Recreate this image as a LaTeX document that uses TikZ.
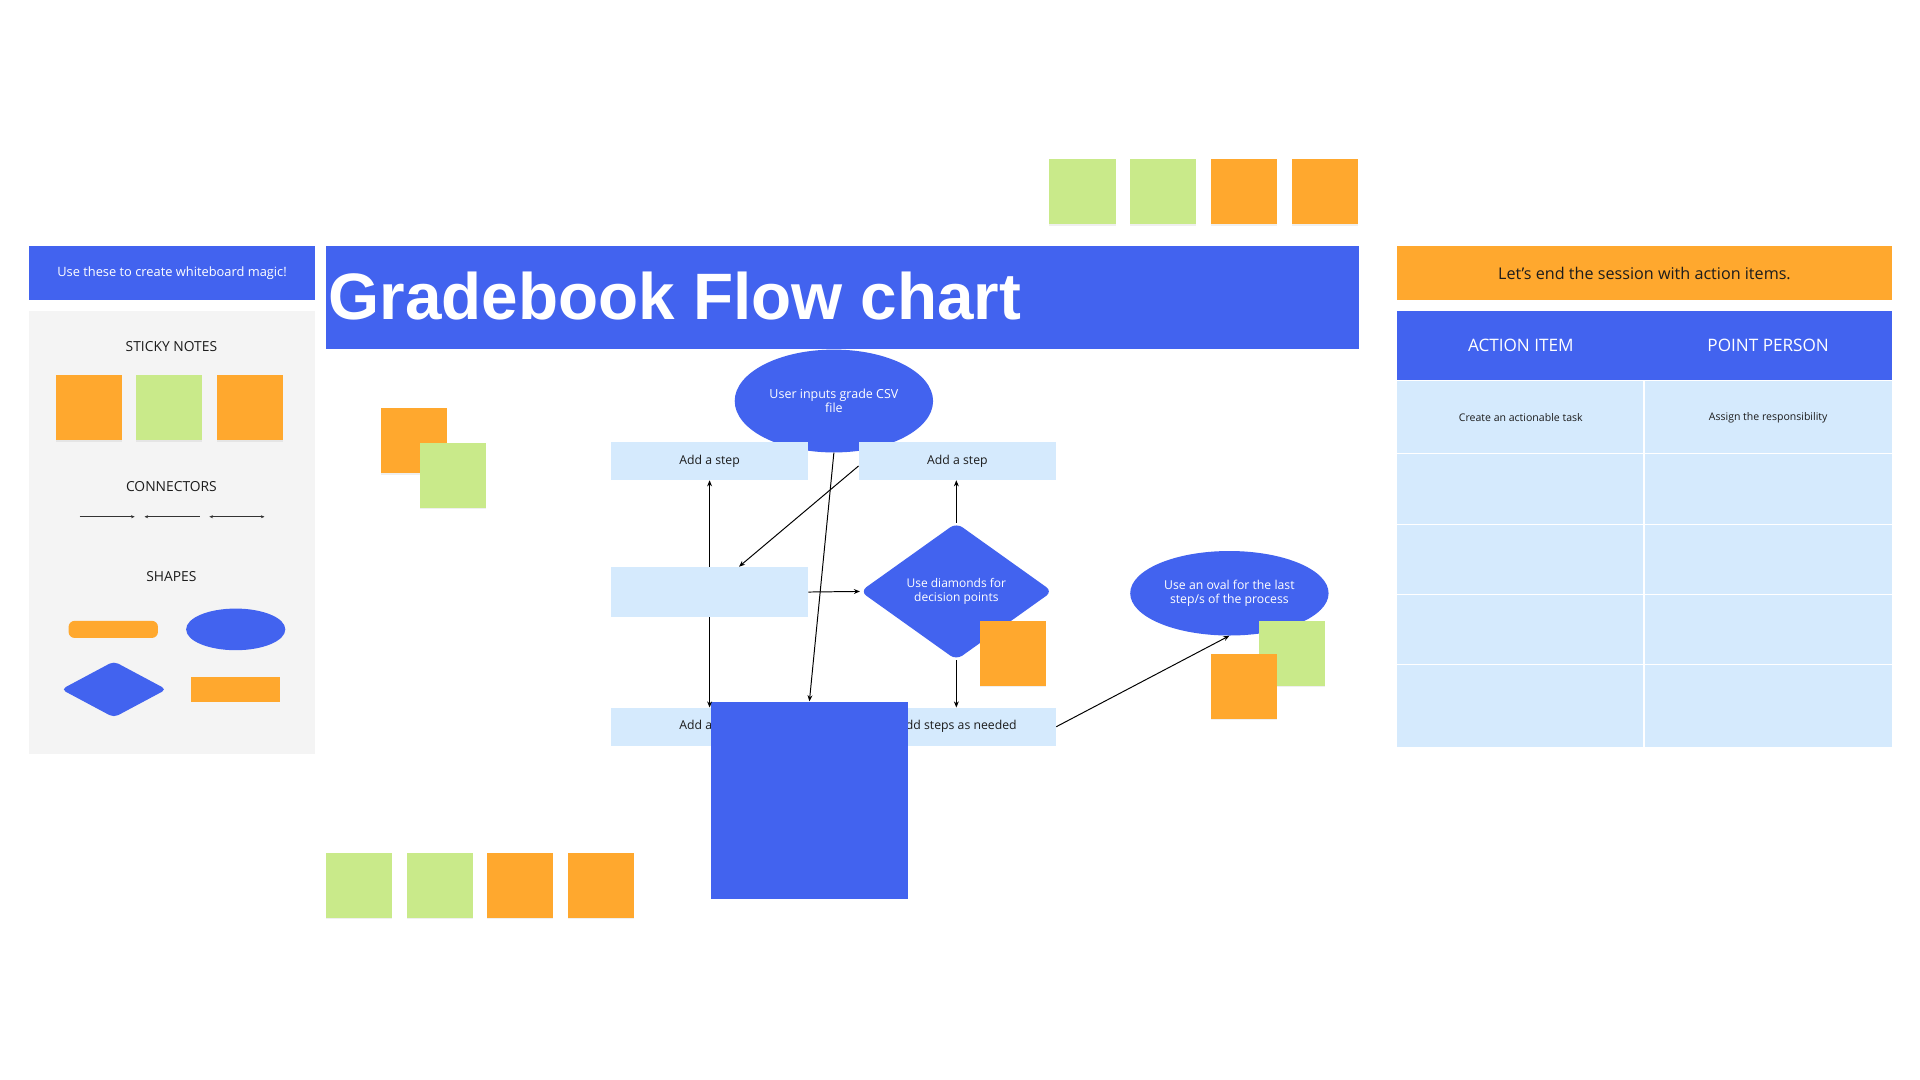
\documentclass[tikz,border=0pt]{standalone}
\usepackage{fontspec}
\setmainfont{Open Sans}
\newfontfamily\titlefont{Liberation Sans}
\usetikzlibrary{shapes.geometric,arrows.meta,positioning,shadows}
\definecolor{boardblue}{RGB}{66,99,239}
\definecolor{steplight}{RGB}{213,234,253}
\definecolor{noteorange}{RGB}{255,168,46}
\definecolor{notegreen}{RGB}{201,234,138}
\definecolor{panelgray}{RGB}{244,244,244}
\definecolor{inkdark}{RGB}{28,28,28}

\begin{document}
\begin{tikzpicture}[x=1pt, y=-1pt, font=\fontsize{10}{11}\selectfont,
  stepbox/.style={rectangle, fill=steplight, minimum width=161pt, minimum height=31pt, inner sep=0pt, text=inkdark},
  sticky/.style={rectangle, minimum width=54pt, minimum height=53pt, inner sep=0pt,
    drop shadow={shadow xshift=0pt, shadow yshift=-1.2pt, opacity=.12}},
  orangenote/.style={sticky, fill=noteorange},
  greennote/.style={sticky, fill=notegreen},
  oval/.style={ellipse, fill=boardblue, text=white, inner sep=0pt, align=center},
  band/.style={rectangle, inner sep=0pt},
  kitlabel/.style={text=inkdark, font=\fontsize{11.3}{13}\selectfont},
  flow/.style={-{Stealth[length=5pt,width=4pt]}, line width=0.8pt, black},
  legend/.style={line width=0.6pt, black!80}
]
\useasboundingbox (0,0) rectangle (1568,882);
\fill[white] (0,0) rectangle (1568,882);

% toolbox on the left
\node[band, fill=boardblue, text=white, minimum width=233pt, minimum height=44pt, font=\fontsize{10.5}{12}\selectfont] (hint) at (140.5,223) {Use these to create whiteboard magic!};
\node[band, fill=panelgray, minimum width=233pt, minimum height=362pt] (panel) at (140.5,435) {};
\node[kitlabel] (stickylbl) at (140,283) {STICKY NOTES};
\node[orangenote] (kitA) at (73,333) {};
\node[greennote] (kitB) at (138,333) {};
\node[orangenote] (kitC) at (204,333) {};
\node[kitlabel] (connlbl) at (140,397) {CONNECTORS};
\coordinate (lineAa) at (65,422);
\coordinate (lineAb) at (110,422);
\coordinate (lineBa) at (118,422);
\coordinate (lineBb) at (163,422);
\coordinate (lineCa) at (171,422);
\coordinate (lineCb) at (216,422);
\draw[legend, -{Stealth[length=3pt,width=2.5pt]}] (lineAa) -- (lineAb);
\draw[legend, {Stealth[length=3pt,width=2.5pt]}-] (lineBa) -- (lineBb);
\draw[legend, {Stealth[length=3pt,width=2.5pt]}-{Stealth[length=3pt,width=2.5pt]}] (lineCa) -- (lineCb);
\node[kitlabel] (shapeslbl) at (140,471) {SHAPES};
\node[band, fill=noteorange, rounded corners=5pt, minimum width=73pt, minimum height=14pt] (pill) at (92.5,514) {};
\node[ellipse, fill=boardblue, inner sep=0pt, minimum width=81pt, minimum height=34pt] (blob) at (192.5,514) {};
\node[diamond, fill=boardblue, inner sep=0pt, rounded corners=4pt, minimum width=86pt, minimum height=46pt] (rhomb) at (93,563) {};
\node[band, fill=noteorange, minimum width=73pt, minimum height=20pt] (bar) at (192.5,563) {};

% title
\node[band, fill=boardblue, minimum width=844pt, minimum height=84pt] (banner) at (688,243) {};
\node[anchor=base west, inner sep=0pt, text=white, font=\titlefont\bfseries\fontsize{53.6}{60}\selectfont] (title) at (268,260.8) {Gradebook Flow chart};

% loose sticky notes
\node[greennote] (topA) at (884,156.5) {};
\node[greennote] (topB) at (950,156.5) {};
\node[orangenote] (topC) at (1016,156.5) {};
\node[orangenote] (topD) at (1082,156.5) {};
\node[orangenote] (sideA) at (338,360) {};
\node[greennote] (sideB) at (370,388) {};
\node[greennote] (lowA) at (293,723) {};
\node[greennote] (lowB) at (359,723) {};
\node[orangenote] (lowC) at (425,723) {};
\node[orangenote] (lowD) at (491,723) {};

% flow chart
\node[oval, minimum width=162pt, minimum height=84pt, font=\fontsize{10.2}{11}\selectfont] (start) at (681,327.5) {User inputs grade CSV\\file};
\node[stepbox] (stepTL) at (579.5,376.5) {Add a step};
\node[stepbox, right=41pt of stepTL] (stepTR) {Add a step};
\node[stepbox, minimum height=41pt] (mid) at (579.5,483.5) {};
\node[diamond, fill=boardblue, text=white, inner sep=0pt, aspect=1.4, rounded corners=6pt, align=center,
  minimum width=157pt, minimum height=112pt, font=\fontsize{9.8}{12}\selectfont] (dec) at (781,483) {Use diamonds for\\decision points};
\node[stepbox] (stepBL) at (579.5,593.5) {Add a step};
\node[stepbox, right=41pt of stepBL] (stepBR) {Add steps as needed};
\node[band, fill=boardblue, minimum width=161pt, minimum height=161pt] (big) at (661,653.5) {};
\node[oval, minimum width=162pt, minimum height=69pt, font=\fontsize{10}{11}\selectfont] (finish) at (1004,484.5) {Use an oval for the last\\step/s of the process};

\draw[flow] (mid.north) -- (stepTL.south);
\draw[flow] ([yshift=-4pt]stepTR.west) -- ([xshift=24pt]mid.north);
\draw[flow] (start.south) -- (big.north);
\draw[flow] (mid.east) -- (dec.west);
\draw[flow] (dec.north) -- (dec.north |- stepTR.south);
\draw[flow] (dec.south) -- (dec.south |- stepBR.north);
\draw[flow] (mid.south) -- (stepBL.north);
\draw[flow] (stepBR.east) -- (finish.south);

\node[orangenote] (decnote) at (827,533.5) {};
\node[greennote] (finA) at (1055,533.5) {};
\node[orangenote] (finB) at (1016,560.5) {};

% action items on the right
\node[band, fill=noteorange, text=inkdark, minimum width=404pt, minimum height=44pt, font=\fontsize{13.2}{15}\selectfont] (wrapup) at (1343,223) {Let's end the session with action items.};
\node[band, fill=boardblue, minimum width=404pt, minimum height=56pt] (thead) at (1343,282) {};
\node[text=white, font=\fontsize{14}{16}\selectfont] (colA) at (1242,282) {ACTION ITEM};
\node[text=white, font=\fontsize{14}{16}\selectfont] (colB) at (1444,282) {POINT PERSON};
\foreach \top/\bot in {311/370, 371/428, 429/485, 486/542, 543/610} {
  \fill[steplight] (1141,\top) rectangle (1342,\bot);
  \fill[steplight] (1343.5,\top) rectangle (1545,\bot);
}
\node[text=inkdark, font=\fontsize{8.6}{10}\selectfont] (taskA) at (1242,341) {Create an actionable task};
\node[text=inkdark, font=\fontsize{8.6}{10}\selectfont] (ownerA) at (1444,341) {Assign the responsibility};
\end{tikzpicture}
\end{document}
